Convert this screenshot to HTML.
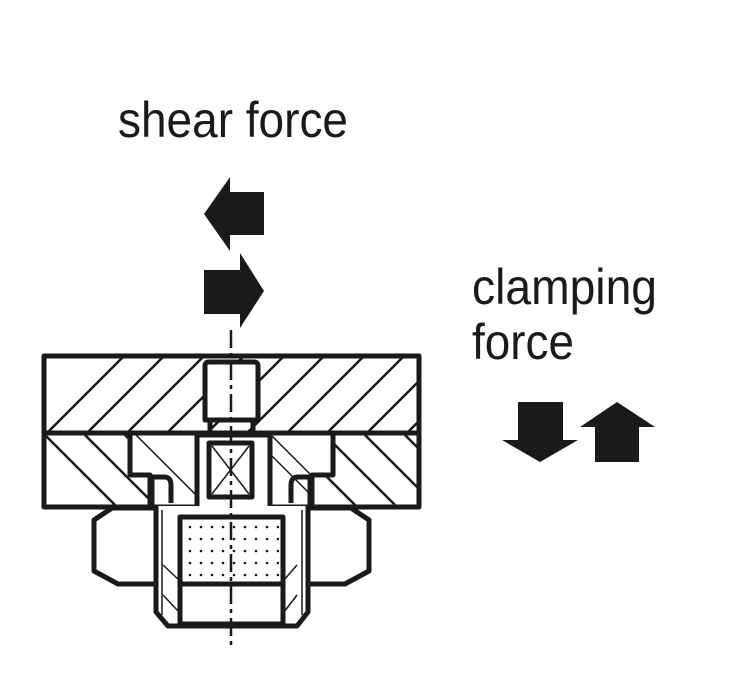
<!DOCTYPE html>
<html><head><meta charset="utf-8"><style>html,body{margin:0;padding:0;background:#fff}svg{display:block}</style></head>
<body>
<svg width="750" height="692" viewBox="0 0 750 692" xmlns="http://www.w3.org/2000/svg">
<defs>
<clipPath id="c1"><rect x="45" y="357" width="373" height="74"/></clipPath>
<clipPath id="c2"><rect x="45" y="434" width="373" height="72"/></clipPath>
<clipPath id="c3"><path d="M130,434 L333,434 L333,475 L312,475 L312,508 L150,508 L150,475 L130,475 Z"/></clipPath>
<pattern id="dots" x="186" y="522" width="11" height="12" patternUnits="userSpaceOnUse"><circle cx="4" cy="5" r="1.3" fill="#1a1a1a"/></pattern>
</defs>
<g font-family="'Liberation Sans Narrow','Liberation Sans',sans-serif" fill="#1a1a1a">
<text x="118" y="137" font-size="50" textLength="230" lengthAdjust="spacingAndGlyphs">shear force</text>
<text x="472" y="304" font-size="50" textLength="185" lengthAdjust="spacingAndGlyphs">clamping</text>
<text x="472" y="359" font-size="50" textLength="102" lengthAdjust="spacingAndGlyphs">force</text>
</g>
<g fill="#1a1a1a">
<polygon points="204,214 230,177 230,192 264,192 264,235 230,235 230,251"/>
<polygon points="264,291 240,253 240,270 204,270 204,314 240,314 240,328"/>
<polygon points="540,462 502,440 518,440 518,402 563,402 563,440 578,440"/>
<polygon points="617,402 580,427 595,427 595,462 639,462 639,427 655,427"/>
</g>
<g stroke="#1a1a1a" fill="none">
<g clip-path="url(#c1)" stroke-width="2.5">
<path d="M20,460 L140,340 M60,460 L180,340 M100,460 L220,340 M140,460 L260,340 M180,460 L300,340 M220,460 L340,340 M260,460 L380,340 M300,460 L420,340 M340,460 L460,340 M380,460 L500,340 M420,460 L540,340"/>
</g>
<rect x="205" y="361" width="53" height="60" fill="#fff" stroke="none"/>
<g clip-path="url(#c2)" stroke-width="2.5">
<path d="M10,400 L130,520 M50,400 L170,520 M90,400 L210,520 M250,400 L370,520 M290,400 L410,520 M330,400 L450,520 M370,400 L490,520 M410,400 L530,520 M130,400 L250,520 M170,400 L290,520"/>
</g>
<path d="M130,434 L333,434 L333,475 L312,475 L312,508 L150,508 L150,475 L130,475 Z" fill="#fff" stroke="none"/>
<g clip-path="url(#c3)" stroke-width="1.5">
<path d="M135,434 L210,509 M250,434 L330,514 M270,434 L340,504"/>
</g>
<g stroke-width="5" stroke-linejoin="round">
<rect x="44" y="356" width="375" height="151"/>
<line x1="44" y1="433" x2="419" y2="433"/>
<path d="M130,433 L130,475 L150,475 L150,505 M333,433 L333,475 L312,475 L312,505"/>
<path d="M152,505 L152,477 L164,477 Q171,477 171,485 L171,503" />
<path d="M310,505 L310,477 L298,477 Q291,477 291,485 L291,503" />
<path d="M205,420 L205,366 Q205,362 209,362 L254,362 Q258,362 258,366 L258,420 Z" fill="#fff"/>
<line x1="210" y1="421" x2="210" y2="433"/><line x1="253" y1="421" x2="253" y2="433"/>
<path d="M197,435 L270,435 L270,506 Q270,512 264,512 L203,512 Q197,512 197,506 Z" fill="#fff"/>
<rect x="209" y="443" width="43" height="54" fill="#fff"/>
<path d="M155,508 L112,508 L94,520 L94,571 L118,584 L155,584"/>
<path d="M308,508 L351,508 L369,520 L369,571 L345,584 L308,584"/>
<path d="M156,506 L156,612 L168,626 L297,626 L308,612 L308,506" fill="#fff"/>
<rect x="180" y="517" width="103" height="107" fill="#fff"/>
<line x1="181" y1="584" x2="282" y2="584"/>
</g>
<rect x="184" y="520" width="95" height="60" fill="url(#dots)" stroke="none"/>
<path d="M212,446 L249,494 M249,446 L212,494" stroke-width="1.5"/>
<path d="M162,510 L162,615 M302,510 L302,615" stroke-width="1.5"/>
<path d="M163,565 L179,580 M297,565 L284,580 M163,595 L179,612 M297,595 L284,612" stroke-width="1.5"/>
<line x1="231" y1="330" x2="231" y2="650" stroke-width="2.5" stroke-dasharray="18,5,4,5"/>
</g>
</svg>
</body></html>
